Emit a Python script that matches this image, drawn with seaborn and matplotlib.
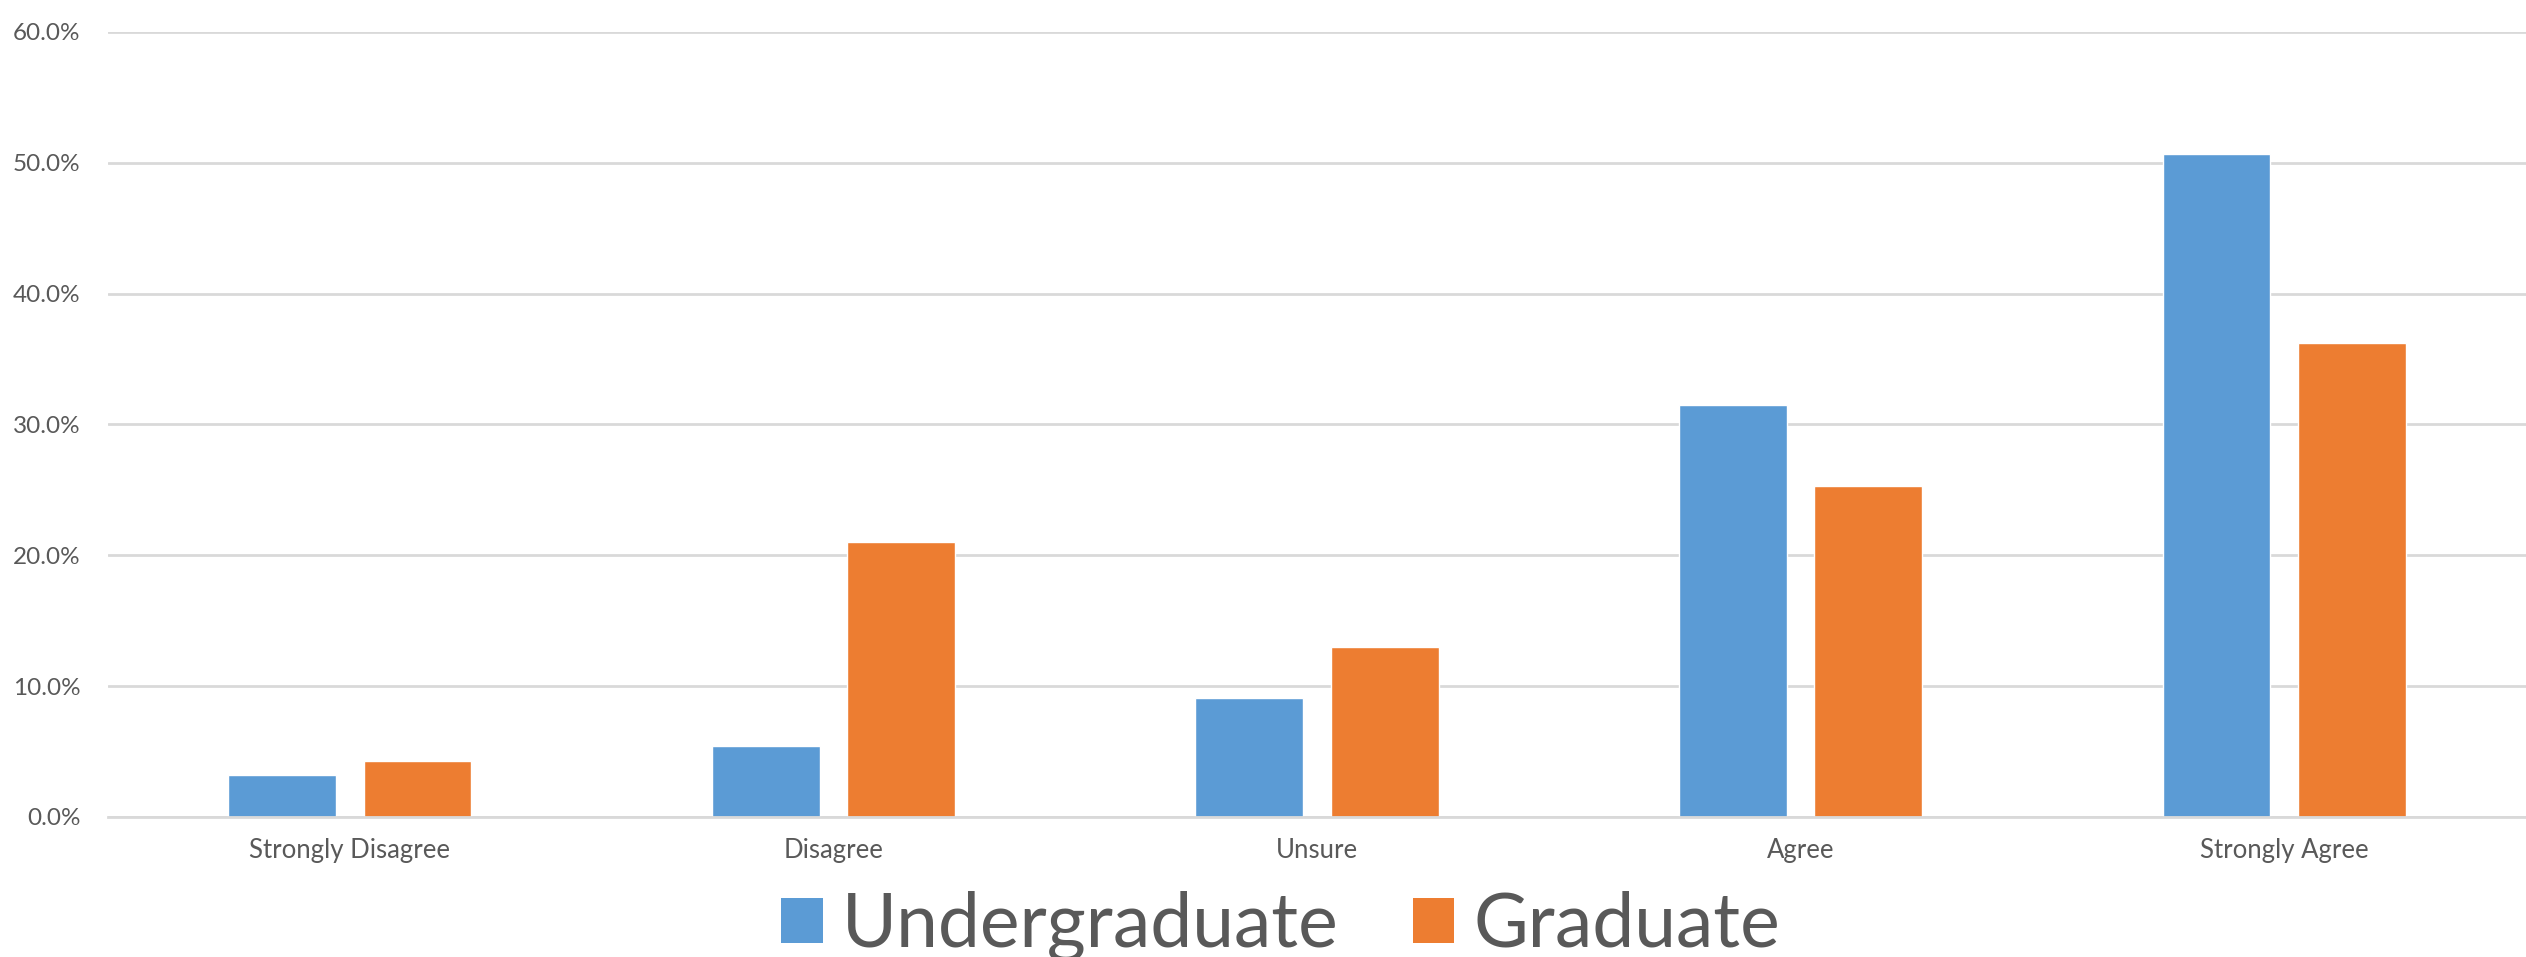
import matplotlib
matplotlib.use("Agg")
import matplotlib.pyplot as plt
import seaborn as sns
import pandas as pd
from matplotlib.ticker import PercentFormatter
from matplotlib.patches import Patch

categories = ["Strongly Disagree", "Disagree", "Unsure", "Agree", "Strongly Agree"]
undergraduate = [3.2, 5.4, 9.1, 31.5, 50.7]
graduate = [4.3, 21.0, 13.0, 25.3, 36.2]
series = ["Undergraduate", "Graduate"]
colors = ["#5B9BD5", "#ED7D31"]

df = pd.DataFrame({
    "category": categories * 2,
    "value": [v / 100 for v in undergraduate] + [v / 100 for v in graduate],
    "series": [series[0]] * len(categories) + [series[1]] * len(categories),
})

sns.set_style("white")
plt.rcParams["font.family"] = ["Lato", "DejaVu Sans"]

fig = plt.figure(figsize=(25.26, 9.57), dpi=100)
ax = fig.add_axes([0.0428, 0.1463, 0.9572, 0.8203])

sns.barplot(data=df, x="category", y="value", hue="series", order=categories,
            hue_order=series, palette=colors, width=0.56, gap=0.204,
            saturation=1, ax=ax, legend=False)

ax.set_ylim(0, 0.6)
ax.set_xlim(-0.5, len(categories) - 0.5)
ax.set_yticks([0, 0.1, 0.2, 0.3, 0.4, 0.5, 0.6])
ax.yaxis.set_major_formatter(PercentFormatter(1.0, decimals=1))
ax.grid(axis="y", color="#d9d9d9", linewidth=2)
ax.set_axisbelow(True)
for s in ["top", "right", "left"]:
    ax.spines[s].set_visible(False)
ax.spines["bottom"].set_color("#d9d9d9")
ax.spines["bottom"].set_linewidth(2)
ax.tick_params(axis="both", length=0, colors="#595959")
ax.tick_params(axis="y", pad=20, labelsize=17.5)
ax.tick_params(axis="x", pad=15, labelsize=18.5)
ax.set_xlabel("")
ax.set_ylabel("")

handles = [Patch(facecolor=c, edgecolor="none") for c in colors]
leg = fig.legend(handles, series, loc="center", bbox_to_anchor=(0.507, 0.032), ncol=2,
                 frameon=False, fontsize=54, handlelength=0.55, handleheight=0.55,
                 handletextpad=0.25, columnspacing=1.0)
for t in leg.get_texts():
    t.set_color("#595959")

fig.savefig("out.png", dpi=100, facecolor="white")
